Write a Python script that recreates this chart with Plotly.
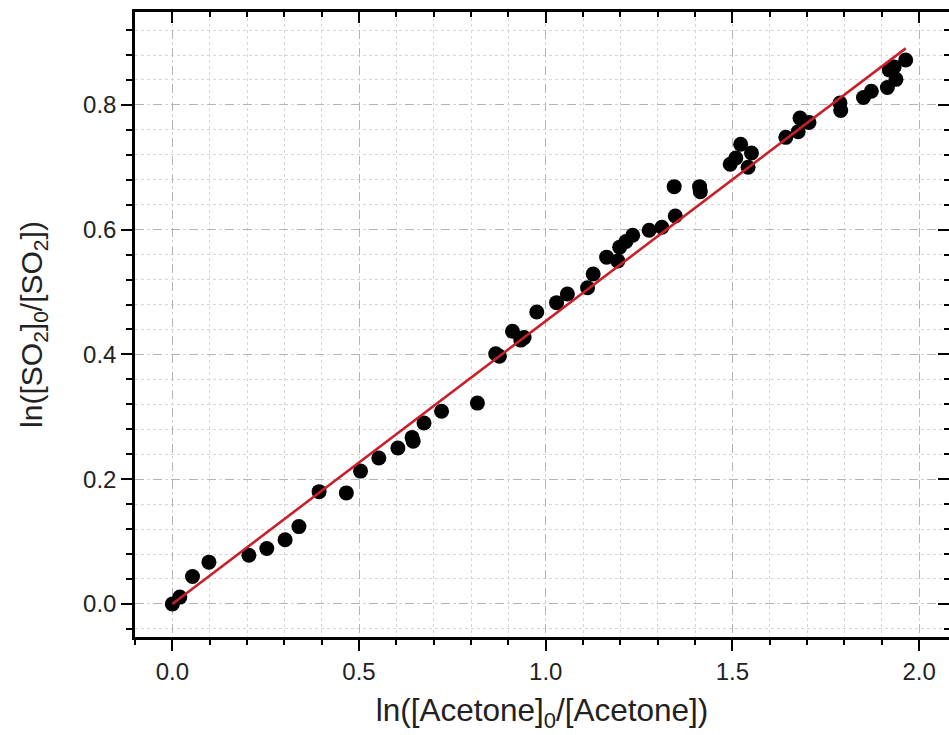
import numpy as np
import plotly.graph_objects as go

# Measured points: ln([Acetone]0/[Acetone]) vs ln([SO2]0/[SO2])
ln_acetone = [
    0.000, 0.020, 0.054, 0.098, 0.205, 0.253, 0.302, 0.339, 0.393, 0.466,
    0.504, 0.553, 0.604, 0.642, 0.645, 0.674, 0.721, 0.817, 0.866, 0.876,
    0.911, 0.933, 0.942, 0.976, 1.029, 1.058, 1.112, 1.127, 1.163, 1.193,
    1.198, 1.215, 1.233, 1.277, 1.311, 1.347, 1.344, 1.412, 1.414, 1.494,
    1.509, 1.522, 1.542, 1.551, 1.643, 1.676, 1.681, 1.705, 1.788, 1.790,
    1.851, 1.872, 1.915, 1.920, 1.933, 1.938, 1.964,
]
ln_so2 = [
    0.000, 0.011, 0.044, 0.067, 0.078, 0.089, 0.103, 0.124, 0.180, 0.178,
    0.213, 0.234, 0.250, 0.267, 0.261, 0.290, 0.309, 0.322, 0.401, 0.397,
    0.437, 0.423, 0.427, 0.468, 0.483, 0.497, 0.507, 0.529, 0.556, 0.550,
    0.572, 0.581, 0.591, 0.599, 0.604, 0.622, 0.669, 0.669, 0.661, 0.705,
    0.715, 0.737, 0.700, 0.723, 0.748, 0.757, 0.779, 0.772, 0.803, 0.791,
    0.812, 0.822, 0.828, 0.856, 0.861, 0.841, 0.872,
]

# Linear fit parameters
fit_slope = 0.4535
fit_intercept = 0.0
fit_x = [0.0, max(ln_acetone)]
fit_y = [fit_intercept + fit_slope * v for v in fit_x]

x_range = [-0.1, 2.08]
y_range = [-0.053, 0.949]
x_ticks = [0.0, 0.5, 1.0, 1.5, 2.0]
y_ticks = [0.0, 0.2, 0.4, 0.6, 0.8]

FONT = "Liberation Sans, Arial, sans-serif"
TEXT = "#222222"
MAJOR_GRID = "#b4b4b4"
MINOR_GRID = "#d6d6d6"

fig = go.Figure()
fig.add_trace(go.Scatter(
    x=ln_acetone, y=ln_so2, mode="markers",
    marker=dict(size=15, color="black", line=dict(width=0)),
    showlegend=False,
))
fig.add_trace(go.Scatter(
    x=fit_x, y=fit_y, mode="lines",
    line=dict(color="#c8202a", width=2.6),
    showlegend=False,
))
# invisible trace so the mirrored top/right axes are drawn
fig.add_trace(go.Scatter(
    x=x_range, y=y_range, xaxis="x2", yaxis="y2",
    mode="markers", marker=dict(opacity=0), showlegend=False, hoverinfo="skip",
))

common = dict(
    linecolor="black", linewidth=2.5, zeroline=False,
    tickcolor="black", tickwidth=2, ticklen=11,
)

fig.update_layout(
    width=949, height=735,
    margin=dict(l=135, r=0, t=12, b=98),
    paper_bgcolor="white", plot_bgcolor="white",
    font=dict(family=FONT, color=TEXT),
    xaxis=dict(
        range=x_range, tickvals=x_ticks, ticktext=[f"{v:.1f}" for v in x_ticks],
        ticks="outside", tickfont=dict(size=24, color=TEXT), showline=True,
        showgrid=True, gridcolor=MAJOR_GRID, griddash="dash", gridwidth=1.3,
        minor=dict(dtick=0.1, tick0=0, ticks="outside", ticklen=5,
                   tickcolor="black", tickwidth=2,
                   showgrid=True, gridcolor=MINOR_GRID, griddash="dot", gridwidth=1),
        title=dict(text="ln([Acetone]<sub>0</sub>/[Acetone])",
                   font=dict(size=31.5, color=TEXT), standoff=16),
        **common,
    ),
    yaxis=dict(
        range=y_range, tickvals=y_ticks, ticktext=[f"{v:.1f}" for v in y_ticks],
        ticks="outside", tickfont=dict(size=24, color=TEXT), showline=True,
        showgrid=True, gridcolor=MAJOR_GRID, griddash="dash", gridwidth=1.3,
        minor=dict(dtick=0.04, tick0=0, ticks="outside", ticklen=6,
                   tickcolor="black", tickwidth=2,
                   showgrid=True, gridcolor=MINOR_GRID, griddash="dot", gridwidth=1),
        title=dict(text="ln([SO<sub>2</sub>]<sub>0</sub>/[SO<sub>2</sub>])",
                   font=dict(size=30, color=TEXT), standoff=32),
        **common,
    ),
    xaxis2=dict(
        overlaying="x", side="top", range=x_range, tickvals=x_ticks,
        showticklabels=False, ticks="inside", showgrid=False, showline=True,
        minor=dict(dtick=0.1, tick0=0, ticks="inside", ticklen=5,
                   tickcolor="black", tickwidth=2, showgrid=False),
        **common,
    ),
    yaxis2=dict(
        overlaying="y", side="right", range=y_range, tickvals=y_ticks,
        showticklabels=False, ticks="inside", showgrid=False, showline=False,
        minor=dict(dtick=0.04, tick0=0, ticks="inside", ticklen=5,
                   tickcolor="black", tickwidth=2, showgrid=False),
        **common,
    ),
)

fig.write_html("out.html")
